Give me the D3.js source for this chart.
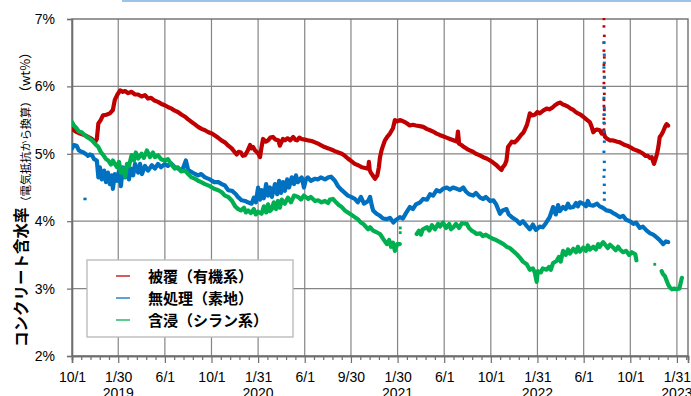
<!DOCTYPE html>
<html><head><meta charset="utf-8">
<script src="https://cdn.jsdelivr.net/npm/d3@7"></script>
<style>
html,body{margin:0;padding:0;background:#fff;overflow:hidden}
svg{display:block}
</style></head><body>
<svg id="chart" width="691" height="396"></svg>
<script>
// Concrete moisture content (estimated from electrical resistance).
// Readings are stored as [elapsed days since startDate, moisture wt%].
const startDate = "2018-10-01";
const endDate = "2023-03-01";

const seriesNames = ["被覆（有機系）", "無処理（素地）", "含浸（シラン系）"];
const seriesColors = ["#C00000", "#0070C0", "#00B050"];

const coated = [[0,5.37],[10,5.33],[21,5.30],[32,5.28],[42,5.25],[52,5.22],[60,5.17],[65,5.22],[69,5.45],[75,5.50],[81,5.57],[90,5.58],[99,5.60],[107,5.65],[112,5.80],[119,5.88],[126,5.94],[133,5.92],[139,5.93],[147,5.90],[156,5.92],[165,5.88],[173,5.88],[182,5.85],[191,5.87],[199,5.82],[207,5.83],[216,5.79],[225,5.77],[234,5.74],[243,5.72],[252,5.69],[261,5.67],[269,5.64],[277,5.62],[287,5.58],[296,5.55],[304,5.51],[311,5.48],[321,5.44],[330,5.40],[339,5.37],[348,5.35],[357,5.32],[366,5.30],[374,5.27],[382,5.24],[391,5.20],[400,5.17],[409,5.12],[418,5.08],[425,5.03],[431,4.99],[436,5.03],[442,5.02],[447,4.97],[453,4.98],[460,5.05],[466,5.13],[470,5.08],[474,5.10],[479,5.05],[483,5.03],[488,5.00],[492,4.95],[496,5.10],[500,5.22],[507,5.18],[513,5.20],[519,5.24],[526,5.25],[533,5.21],[540,5.20],[544,5.12],[547,5.16],[552,5.22],[557,5.20],[564,5.23],[571,5.20],[579,5.25],[584,5.21],[589,5.20],[595,5.24],[601,5.22],[609,5.21],[617,5.20],[627,5.19],[636,5.17],[644,5.15],[651,5.13],[661,5.10],[671,5.08],[680,5.06],[688,5.04],[697,5.02],[706,5.00],[714,4.97],[722,4.93],[731,4.89],[740,4.85],[749,4.83],[759,4.80],[767,4.79],[775,4.78],[777,4.88],[779,4.76],[782,4.72],[788,4.67],[793,4.63],[799,4.68],[803,4.80],[806,4.95],[810,5.05],[814,5.12],[819,5.20],[826,5.26],[832,5.30],[840,5.38],[845,5.50],[851,5.48],[858,5.50],[864,5.49],[871,5.47],[877,5.45],[884,5.42],[892,5.43],[900,5.42],[910,5.41],[919,5.40],[928,5.37],[937,5.35],[945,5.33],[954,5.30],[962,5.28],[971,5.26],[980,5.24],[989,5.22],[998,5.20],[1007,5.18],[1010,5.33],[1013,5.15],[1019,5.13],[1026,5.10],[1034,5.07],[1041,5.05],[1049,5.03],[1057,5.00],[1066,4.98],[1076,4.95],[1085,4.93],[1094,4.90],[1102,4.87],[1111,4.83],[1116,4.80],[1120,4.78],[1124,4.76],[1127,4.80],[1133,4.84],[1137,4.90],[1141,5.10],[1146,5.14],[1151,5.18],[1158,5.17],[1164,5.20],[1170,5.24],[1175,5.28],[1182,5.32],[1190,5.42],[1194,5.50],[1198,5.60],[1204,5.57],[1211,5.58],[1218,5.62],[1224,5.60],[1233,5.64],[1242,5.67],[1249,5.66],[1256,5.68],[1264,5.72],[1272,5.75],[1278,5.76],[1285,5.73],[1291,5.72],[1298,5.70],[1305,5.67],[1312,5.65],[1318,5.62],[1324,5.60],[1331,5.58],[1338,5.55],[1346,5.51],[1355,5.47],[1360,5.40],[1364,5.32],[1369,5.35],[1374,5.36],[1381,5.35],[1386,5.30],[1390,5.33],[1395,5.25],[1401,5.22],[1408,5.20],[1414,5.20],[1421,5.19],[1427,5.18],[1434,5.17],[1440,5.15],[1447,5.13],[1453,5.12],[1460,5.10],[1469,5.07],[1478,5.05],[1486,5.03],[1495,5.00],[1501,4.97],[1507,4.97],[1512,4.94],[1517,4.95],[1520,4.90],[1523,4.85],[1527,4.92],[1531,5.00],[1535,5.12],[1538,5.25],[1542,5.28],[1546,5.32],[1549,5.36],[1552,5.40],[1556,5.44],[1560,5.42]];

const untreated = [[0,5.08],[5,5.13],[12,5.12],[18,5.05],[25,5.03],[30,5.02],[38,4.99],[42,4.97],[47,4.99],[52,4.98],[58,4.92],[65,4.90],[69,4.65],[73,4.80],[78,4.62],[84,4.75],[89,4.58],[94,4.72],[99,4.55],[104,4.68],[107,4.48],[112,4.70],[118,4.60],[123,4.75],[128,4.52],[133,4.80],[139,4.65],[144,4.82],[149,4.62],[154,4.78],[160,4.68],[165,4.85],[173,4.72],[178,4.85],[183,4.70],[191,4.82],[199,4.75],[209,4.83],[217,4.78],[225,4.85],[233,4.80],[243,4.85],[251,4.82],[259,4.86],[269,4.80],[278,4.78],[288,4.75],[298,4.90],[304,4.76],[313,4.73],[322,4.70],[330,4.68],[338,4.70],[348,4.65],[361,4.62],[372,4.58],[383,4.58],[392,4.55],[400,4.53],[409,4.46],[419,4.45],[429,4.40],[434,4.36],[444,4.31],[453,4.30],[460,4.28],[470,4.26],[476,4.35],[481,4.28],[487,4.50],[492,4.32],[496,4.46],[502,4.34],[508,4.55],[513,4.38],[518,4.50],[523,4.36],[531,4.55],[537,4.40],[542,4.60],[547,4.42],[552,4.58],[557,4.45],[563,4.62],[568,4.50],[575,4.65],[581,4.55],[586,4.68],[591,4.58],[601,4.65],[607,4.50],[612,4.62],[617,4.65],[625,4.60],[636,4.63],[644,4.62],[651,4.65],[662,4.62],[671,4.65],[678,4.66],[688,4.60],[696,4.52],[706,4.46],[714,4.42],[722,4.38],[730,4.36],[740,4.33],[748,4.28],[756,4.36],[764,4.26],[775,4.30],[780,4.36],[785,4.22],[788,4.16],[797,4.11],[806,4.08],[814,4.04],[824,4.03],[832,4.05],[841,3.98],[848,4.02],[858,4.06],[866,4.04],[874,4.12],[884,4.21],[892,4.18],[900,4.25],[911,4.28],[919,4.33],[929,4.32],[937,4.40],[945,4.38],[954,4.46],[963,4.44],[971,4.48],[981,4.50],[989,4.47],[997,4.50],[1007,4.48],[1015,4.46],[1024,4.50],[1031,4.44],[1039,4.40],[1050,4.38],[1057,4.42],[1068,4.35],[1076,4.33],[1083,4.36],[1094,4.30],[1103,4.31],[1110,4.25],[1120,4.11],[1127,4.16],[1137,4.18],[1143,4.10],[1151,4.06],[1164,4.01],[1172,3.96],[1180,4.00],[1190,3.93],[1198,3.88],[1206,3.95],[1214,3.87],[1224,3.92],[1232,3.91],[1240,3.97],[1250,4.06],[1259,4.21],[1266,4.10],[1272,4.24],[1277,4.15],[1285,4.21],[1292,4.18],[1298,4.26],[1303,4.20],[1312,4.21],[1319,4.27],[1324,4.22],[1329,4.28],[1338,4.26],[1345,4.22],[1350,4.30],[1355,4.24],[1364,4.23],[1374,4.26],[1381,4.22],[1389,4.20],[1399,4.16],[1408,4.15],[1416,4.12],[1423,4.10],[1434,4.06],[1442,4.08],[1450,4.02],[1460,4.00],[1469,3.96],[1476,3.98],[1486,3.90],[1494,3.92],[1504,3.86],[1513,3.82],[1521,3.80],[1530,3.76],[1538,3.72],[1547,3.66],[1554,3.70],[1560,3.69]];

// null marks a break in logging
const impregnated = [[0,5.47],[5,5.42],[12,5.38],[18,5.33],[25,5.32],[34,5.27],[42,5.24],[52,5.20],[60,5.15],[69,5.10],[76,5.02],[82,4.98],[89,4.92],[95,4.90],[102,4.84],[107,4.90],[112,4.85],[118,4.80],[123,4.88],[128,4.72],[134,4.78],[139,4.66],[144,4.85],[149,4.82],[156,4.98],[162,4.90],[167,5.02],[173,4.93],[182,5.00],[188,4.94],[196,5.05],[204,4.95],[212,5.02],[217,4.95],[225,4.98],[233,4.92],[243,4.90],[251,4.92],[259,4.85],[269,4.78],[277,4.80],[285,4.74],[296,4.75],[304,4.70],[313,4.65],[322,4.63],[330,4.60],[338,4.58],[348,4.55],[361,4.52],[372,4.48],[383,4.46],[392,4.43],[400,4.38],[409,4.36],[419,4.30],[427,4.22],[435,4.18],[442,4.16],[450,4.20],[455,4.13],[461,4.16],[468,4.12],[476,4.18],[481,4.10],[487,4.14],[496,4.11],[502,4.22],[508,4.13],[513,4.25],[518,4.15],[523,4.18],[528,4.28],[534,4.18],[539,4.30],[544,4.20],[549,4.32],[557,4.26],[565,4.35],[573,4.28],[581,4.38],[592,4.36],[599,4.32],[607,4.38],[618,4.33],[625,4.36],[636,4.30],[644,4.31],[653,4.28],[662,4.30],[670,4.27],[675,4.32],[683,4.33],[691,4.28],[698,4.24],[706,4.21],[714,4.16],[722,4.13],[730,4.10],[740,4.06],[748,4.03],[756,3.98],[764,3.95],[775,3.88],[780,3.91],[788,3.86],[796,3.84],[806,3.81],[814,3.74],[824,3.66],[830,3.72],[835,3.62],[840,3.68],[845,3.56],[851,3.66],[858,3.66],[880,null],[902,3.81],[908,3.86],[913,3.80],[918,3.88],[929,3.91],[935,3.86],[942,3.94],[950,3.88],[958,3.96],[963,3.92],[971,3.98],[979,3.90],[987,3.96],[992,3.88],[998,3.91],[1005,3.96],[1013,3.90],[1020,3.97],[1033,3.96],[1039,3.90],[1046,3.86],[1052,3.84],[1059,3.81],[1068,3.82],[1075,3.78],[1083,3.80],[1094,3.76],[1101,3.74],[1110,3.72],[1120,3.69],[1129,3.66],[1138,3.62],[1146,3.60],[1154,3.56],[1164,3.51],[1172,3.46],[1180,3.40],[1190,3.36],[1198,3.28],[1206,3.30],[1211,3.24],[1216,3.10],[1219,3.26],[1227,3.24],[1232,3.30],[1242,3.28],[1248,3.32],[1253,3.28],[1259,3.38],[1268,3.41],[1274,3.47],[1279,3.40],[1285,3.56],[1292,3.50],[1298,3.58],[1303,3.52],[1312,3.59],[1319,3.54],[1324,3.62],[1329,3.55],[1338,3.61],[1345,3.56],[1350,3.64],[1355,3.58],[1364,3.62],[1371,3.58],[1377,3.66],[1381,3.62],[1390,3.69],[1397,3.64],[1402,3.60],[1408,3.65],[1416,3.61],[1423,3.57],[1429,3.62],[1434,3.58],[1442,3.54],[1450,3.56],[1458,3.50],[1465,3.54],[1474,3.51],[1477,3.42],[1500,null],[1543,3.26],[1546,3.22],[1552,3.18],[1556,3.12],[1560,3.06],[1564,3.02],[1570,2.99],[1576,3.00],[1583,2.99],[1589,3.00],[1591,3.04],[1596,3.16]];

// burst of erratic readings logged on a single day
const coatedBurst = [[1392,7.00],[1392,6.89],[1393,6.75],[1392,6.65],[1392,6.53],[1393,6.43],[1392,6.32],[1392,6.22],[1393,6.14],[1392,6.05],[1392,5.98],[1393,5.89],[1392,5.80],[1392,5.71],[1393,5.65],[1392,5.58],[1392,5.52],[1393,5.45],[1392,5.36],[1392,5.31]];
const untreatedBurst = [[1392,6.65],[1393,6.47],[1393,6.35],[1392,6.28],[1393,6.13],[1393,5.98],[1392,5.83],[1393,5.68],[1393,5.58],[1392,5.46],[1393,5.33],[1393,5.18],[1392,5.03],[1393,4.88],[1393,4.76],[1392,4.66],[1393,4.54],[1393,4.42],[1393,4.32]];
// isolated single readings
const untreatedStray = [[34,4.33]];
const impregnatedStray = [[859,3.90],[859,3.83],[1525,3.36]];

const tickDates = ["2018-10-01","2019-01-30","2019-06-01","2019-10-01","2020-01-31","2020-06-01","2020-09-30","2021-01-30","2021-06-01","2021-10-01","2022-01-31","2022-06-01","2022-10-01","2023-01-31"];
const tickLabels = ["10/1","1/30","6/1","10/1","1/31","6/1","9/30","1/30","6/1","10/1","1/31","6/1","10/1","1/31"];
const yearTicks = ["2019-01-30","2020-01-31","2021-01-30","2022-01-31","2023-01-31"];
const yearLabels = ["2019","2020","2021","2022","2023"];
const yTicks = [2,3,4,5,6,7];

const svg = d3.select("#chart");
const plot = {left:72, right:688, top:19, bottom:356};
const parse = d3.utcParse("%Y-%m-%d");
const t0 = parse(startDate);
const at = d => d3.utcDay.offset(t0, d);

const x = d3.scaleUtc().domain([t0, parse(endDate)]).range([plot.left, plot.right]);
const y = d3.scaleLinear().domain([2, 7]).range([plot.bottom, plot.top]);

const latin = "'Liberation Sans', Arial, sans-serif";
const cjk = "'Noto Sans CJK JP', 'Noto Sans', sans-serif";

// thin light-blue rule along the top edge
svg.append("line").attr("x1",122).attr("x2",691).attr("y1",1).attr("y2",1)
  .attr("stroke","#9dc3e6").attr("stroke-width",2);

svg.append("defs").append("clipPath").attr("id","plotClip")
  .append("rect").attr("x",plot.left).attr("y",plot.top-1)
  .attr("width",plot.right-plot.left).attr("height",plot.bottom-plot.top+1);

// gridlines
const grid = svg.append("g").attr("stroke","#858585").attr("stroke-width",1.2);
grid.selectAll(".h").data(yTicks.filter(v => v>2 && v<7)).join("line")
  .attr("x1",plot.left).attr("x2",plot.right)
  .attr("y1",d=>y(d)).attr("y2",d=>y(d));
grid.selectAll(".v").data(tickDates.slice(1).map(parse)).join("line")
  .attr("x1",d=>x(d)).attr("x2",d=>x(d))
  .attr("y1",plot.top).attr("y2",plot.bottom);

// plot frame
svg.append("rect").attr("x",plot.left).attr("y",plot.top)
  .attr("width",plot.right-plot.left).attr("height",plot.bottom-plot.top)
  .attr("fill","none").attr("stroke","#6e6e6e").attr("stroke-width",1.4);

// minor ticks: four between each pair of labelled dates
const majors = tickDates.map(parse);
const minors = [];
for (let i=0;i<majors.length-1;i++){
  for (let k=1;k<5;k++) minors.push(new Date(+majors[i] + (majors[i+1]-majors[i])*k/5));
}
{
  const last = majors[majors.length-1], step = (majors[1]-majors[0])/5;
  for (let t=+last+step; t<+parse(endDate); t+=step) minors.push(new Date(t));
}

const xMinor = svg.append("g").attr("transform",`translate(0,${plot.bottom})`)
  .call(d3.axisBottom(x).tickValues(minors).tickSize(4).tickFormat(""));
const xAxis = svg.append("g").attr("transform",`translate(0,${plot.bottom})`)
  .call(d3.axisBottom(x).tickValues(majors).tickSize(7).tickPadding(9)
    .tickFormat((d,i)=>tickLabels[i]));
[xMinor,xAxis].forEach(g=>{
  g.select(".domain").attr("stroke","#6e6e6e").attr("stroke-width",1.6);
  g.selectAll(".tick line").attr("stroke","#6e6e6e").attr("stroke-width",1.2);
});
xAxis.selectAll("text").attr("font-family",latin).attr("font-size",14).attr("fill","#000");

svg.append("g").selectAll("text").data(yearTicks).join("text")
  .attr("x",d=>x(parse(d))).attr("y",398).attr("text-anchor","middle")
  .attr("font-family",latin).attr("font-size",14).attr("fill","#000")
  .text((d,i)=>yearLabels[i]);

const yAxis = svg.append("g").attr("transform",`translate(${plot.left},0)`)
  .call(d3.axisLeft(y).tickValues(yTicks).tickSize(5).tickPadding(12).tickFormat(d=>d+"%"));
yAxis.select(".domain").attr("stroke","#6e6e6e").attr("stroke-width",1.6);
yAxis.selectAll(".tick line").attr("stroke","#6e6e6e").attr("stroke-width",1.2);
yAxis.selectAll("text").attr("font-family",latin).attr("font-size",14).attr("fill","#000");

// y-axis title
const title = svg.append("text")
  .attr("transform","translate(27,347) rotate(-90)")
  .attr("font-family",cjk).attr("fill","#000");
title.append("tspan").attr("font-size",15.5).attr("font-weight","bold").text("コンクリート含水率");
title.append("tspan").attr("font-size",11.2).attr("dy",3).text("（電気抵抗から換算）");
title.append("tspan").attr("font-size",13).attr("dx",3).attr("dy",0).text("（wt%）");

// series
const line = d3.line()
  .defined(d => d[1] !== null)
  .x(d => x(at(d[0])))
  .y(d => y(d[1]));

const layer = svg.append("g").attr("clip-path","url(#plotClip)");
[coated, untreated, impregnated].forEach((s,i)=>{
  layer.append("path").datum(s)
    .attr("fill","none").attr("stroke",seriesColors[i])
    .attr("stroke-width",4.2).attr("stroke-linejoin","round").attr("stroke-linecap","round")
    .attr("d",line);
});

const dash = (data, color, w, h) => layer.append("g").selectAll("rect").data(data).join("rect")
  .attr("x",d=>x(at(d[0]))-w/2).attr("y",d=>y(d[1])-h/2)
  .attr("width",w).attr("height",h).attr("fill",color);
dash(coatedBurst, seriesColors[0], 2.8, 2.4);
dash(untreatedBurst, seriesColors[1], 3, 2.4);
dash(untreatedStray, seriesColors[1], 3.2, 2.6);
dash(impregnatedStray, seriesColors[2], 2.8, 2.8);

// legend
const lg = svg.append("g");
lg.append("rect").attr("x",87).attr("y",260).attr("width",206).attr("height",77)
  .attr("fill","#fff").attr("stroke","#bdbdbd").attr("stroke-width",1.4);
seriesNames.forEach((name,i)=>{
  const yy = 276 + i*22;
  lg.append("line").attr("x1",116).attr("x2",130).attr("y1",yy).attr("y2",yy)
    .attr("stroke",seriesColors[i]).attr("stroke-width",1.6).attr("opacity",0.8);
  lg.append("text").attr("x",148).attr("y",yy+5.5)
    .attr("font-family",cjk).attr("font-size",15).attr("font-weight","bold")
    .attr("fill","#000").text(name);
});
</script>
</body></html>
